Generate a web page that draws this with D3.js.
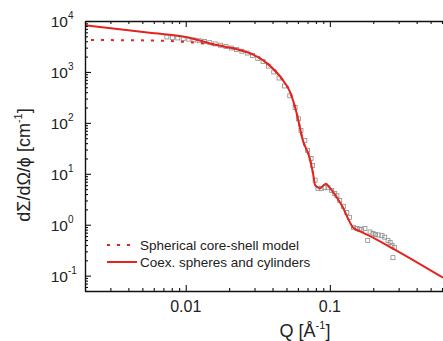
<!DOCTYPE html>
<html>
<head>
<meta charset="utf-8">
<script src="https://cdn.jsdelivr.net/npm/d3@7"></script>
<style>
  body { margin: 0; background: #fff; }
  svg { display: block; font-family: "Liberation Sans", Arial, sans-serif; }
</style>
</head>
<body>
<svg width="443" height="341"></svg>
<script>
// coexisting spheres + cylinders fit vs core-shell model (log-log)

// fit curve: coexisting spheres and cylinders
var fitQ = [0.002, 0.004, 0.0056, 0.01, 0.0164, 0.0237, 0.0278, 0.0365, 0.0472, 0.053, 0.059, 0.065,
            0.0726, 0.0765, 0.079, 0.0853, 0.0938, 0.1, 0.112, 0.123, 0.134, 0.144, 0.162, 0.181, 0.274, 0.61];
var fitI = [8300, 6550, 5850, 4850, 3370, 2700, 2340, 1490, 690, 400, 150, 45,
            20, 10, 6, 5.2, 6.4, 5.3, 3.4, 2.2, 1.3, 0.9, 0.74, 0.64, 0.34, 0.091];

// spherical core-shell model (dotted), merges with the fit above ~0.016
var csQ = [0.0022, 0.0056, 0.01, 0.0164, 0.0237, 0.0278, 0.0365, 0.0472, 0.053, 0.059, 0.065, 0.0726, 0.0765];
var csI = [4230, 4150, 3870, 3370, 2700, 2340, 1490, 690, 400, 150, 45, 20, 10];

// measured points (open squares)
var dataQ = [0.0074, 0.0081, 0.0088, 0.0096, 0.0105, 0.0114, 0.0124, 0.0135, 0.0147, 0.016, 0.0174, 0.019,
             0.0207, 0.0225, 0.0245, 0.0267, 0.029, 0.0316, 0.0344, 0.0375, 0.0408, 0.0444, 0.0484, 0.0527,
             0.0574, 0.0605, 0.063, 0.067, 0.070, 0.074, 0.076, 0.079, 0.0826, 0.087, 0.0922, 0.097, 0.103,
             0.108, 0.112, 0.117, 0.124, 0.131, 0.137, 0.146, 0.154, 0.16, 0.166, 0.175, 0.183, 0.19, 0.199,
             0.207, 0.216, 0.23, 0.24, 0.253, 0.262, 0.27, 0.274, 0.28];
var dataI = [4850, 4750, 4650, 4500, 4400, 4250, 4100, 3950, 3750, 3550, 3350, 3150,
             2950, 2750, 2550, 2350, 2100, 1850, 1600, 1300, 1000, 760, 530, 340,
             200, 120, 71, 45, 29, 20, 14.5, 7.5, 5.2, 5.1, 5.4, 5.3, 4.7,
             4.1, 3.7, 3.0, 2.3, 1.75, 1.4, 0.89, 0.84, 0.82, 0.8, 0.84, 0.49, 0.72, 0.67,
             0.64, 0.63, 0.61, 0.57, 0.49, 0.45, 0.39, 0.226, 0.36];

var yMajor = [0.1, 1, 10, 100, 1000, 10000];
var yExp = ["-1", "0", "1", "2", "3", "4"];
var xMajor = [0.01, 0.1];
var xLabels = ["0.01", "0.1"];

var legendNames = ["Spherical core-shell model", "Coex. spheres and cylinders"];

var red = "#e2231e";
var svg = d3.select("svg");

var x = d3.scaleLog().domain([0.002, 1]).range([85, 474]);
var y = d3.scaleLog().domain([0.05, 10000]).range([291, 21]);

// minor ticks
var yTicks = [];
[0.01, 0.1, 1, 10, 100, 1000].forEach(function(d) {
    for (var k = 1; k < 10; k++) {
        var v = d * k;
        if (v >= 0.05 && v <= 10000) yTicks.push(v);
    }
});
yTicks.push(10000);
var xTicks = [];
[0.001, 0.01, 0.1].forEach(function(d) {
    for (var k = 1; k < 10; k++) {
        var v = d * k;
        if (v >= 0.002 && v <= 0.9) xTicks.push(v);
    }
});

function isMajor(v) {
    var l = Math.log10(v);
    return Math.abs(l - Math.round(l)) < 1e-6;
}

svg.append("clipPath").attr("id", "clip")
    .append("rect").attr("x", 85).attr("y", 21).attr("width", 400).attr("height", 270);

var plot = svg.append("g").attr("clip-path", "url(#clip)");

// data squares
plot.selectAll("rect.pt")
    .data(dataQ.map(function(q, i) { return [q, dataI[i]]; }))
    .enter().append("rect")
    .attr("class", "pt")
    .attr("x", function(d) { return x(d[0]) - 2; })
    .attr("y", function(d) { return y(d[1]) - 2; })
    .attr("width", 4)
    .attr("height", 4)
    .attr("fill", "none")
    .attr("stroke", "#8c8c8c")
    .attr("stroke-width", 0.8);

var line = d3.line()
    .x(function(d) { return x(d[0]); })
    .y(function(d) { return y(d[1]); })
    .curve(d3.curveMonotoneX);

plot.append("path")
    .datum(csQ.map(function(q, i) { return [q, csI[i]]; }))
    .attr("d", line)
    .attr("fill", "none")
    .attr("stroke", red)
    .attr("stroke-width", 2)
    .attr("stroke-dasharray", "3,7");

plot.append("path")
    .datum(fitQ.map(function(q, i) { return [q, fitI[i]]; }))
    .attr("d", line)
    .attr("fill", "none")
    .attr("stroke", red)
    .attr("stroke-width", 2);

// axes, ticks inside
var gl = svg.append("g").attr("transform", "translate(85,0)")
    .call(d3.axisLeft(y).tickValues(yTicks).tickSize(-3).tickSizeOuter(0).tickFormat(""));
var gb = svg.append("g").attr("transform", "translate(0,291)")
    .call(d3.axisBottom(x).tickValues(xTicks).tickSize(-3).tickSizeOuter(0).tickFormat(""));
var gt = svg.append("g").attr("transform", "translate(0,21)")
    .call(d3.axisTop(x).tickValues(xTicks).tickSize(-3).tickSizeOuter(0).tickFormat(""));

gl.selectAll(".tick line").filter(isMajor).attr("x2", 6);
gb.selectAll(".tick line").filter(isMajor).attr("y2", -6);
gt.selectAll(".tick line").filter(isMajor).attr("y2", 6);
[gl, gb, gt].forEach(function(g) {
    g.selectAll("path.domain").attr("stroke", "#111").attr("stroke-width", 1.4);
    g.selectAll(".tick line").attr("stroke", "#111").attr("stroke-width", 1.1);
});

// y tick labels 10^n
yMajor.forEach(function(v, i) {
    var t = svg.append("text")
        .attr("x", 68)
        .attr("y", y(v) + 6)
        .attr("text-anchor", "end")
        .attr("font-size", 15.5)
        .attr("fill", "#222")
        .text("10");
    svg.append("text")
        .attr("x", 68)
        .attr("y", y(v) - 2)
        .attr("font-size", 10)
        .attr("fill", "#222")
        .text(yExp[i]);
});

// x tick labels
xMajor.forEach(function(v, i) {
    svg.append("text")
        .attr("x", x(v))
        .attr("y", 312)
        .attr("text-anchor", "middle")
        .attr("font-size", 16)
        .attr("fill", "#222")
        .text(xLabels[i]);
});

// axis titles
var xt = svg.append("text")
    .attr("x", 305)
    .attr("y", 337)
    .attr("text-anchor", "middle")
    .attr("font-size", 18)
    .attr("fill", "#222");
xt.append("tspan").text("Q [Å");
xt.append("tspan").attr("dy", -8).attr("font-size", 11).text("-1");
xt.append("tspan").attr("dy", 8).text("]");

var yt = svg.append("text")
    .attr("transform", "translate(30,165) rotate(-90)")
    .attr("text-anchor", "middle")
    .attr("font-size", 18)
    .attr("fill", "#222");
yt.append("tspan").text("dΣ/dΩ/ϕ [cm");
yt.append("tspan").attr("dy", -8).attr("font-size", 11).text("-1");
yt.append("tspan").attr("dy", 8).text("]");

// legend
var lg = svg.append("g");
lg.append("line").attr("x1", 107).attr("x2", 133).attr("y1", 245).attr("y2", 245)
    .attr("stroke", red).attr("stroke-width", 2).attr("stroke-dasharray", "3,7");
lg.append("line").attr("x1", 107).attr("x2", 137).attr("y1", 262).attr("y2", 262)
    .attr("stroke", red).attr("stroke-width", 2);
legendNames.forEach(function(n, i) {
    lg.append("text")
        .attr("x", 140)
        .attr("y", 250 + i * 17)
        .attr("font-size", 13.5)
        .attr("fill", "#222")
        .text(n);
});
</script>
</body>
</html>
